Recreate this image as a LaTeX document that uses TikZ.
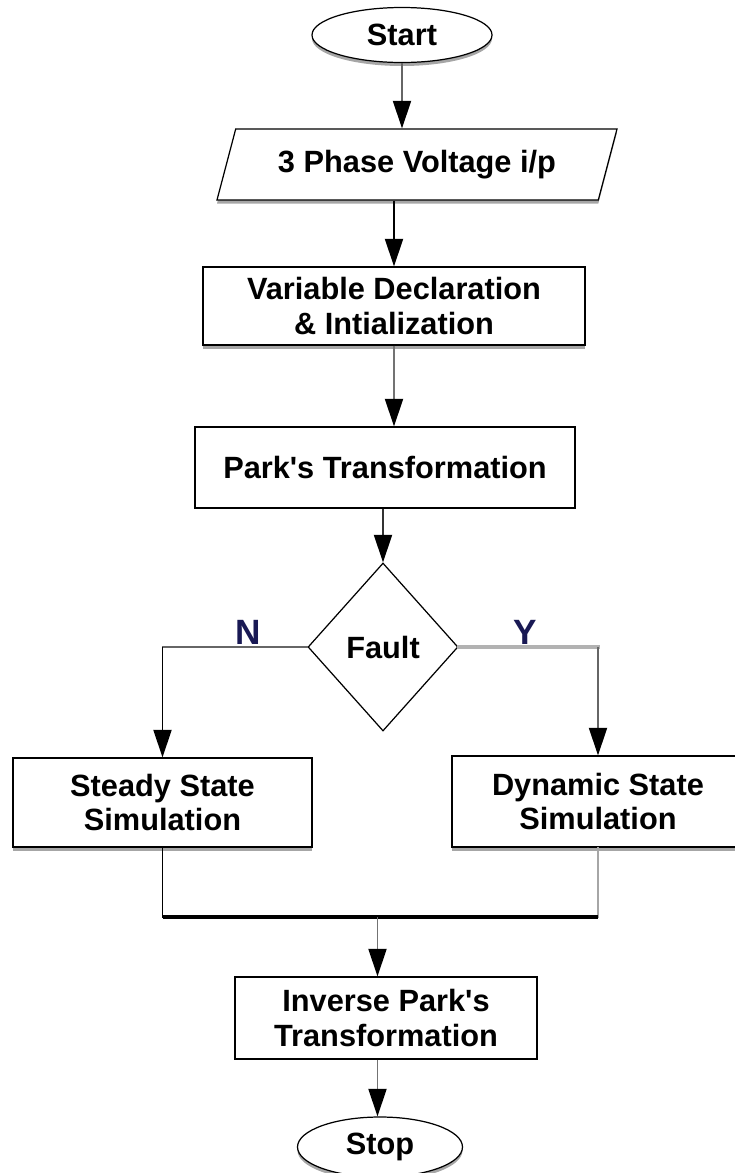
\documentclass[tikz,border=0pt]{standalone}
\usepackage{fontspec}
\setmainfont{Liberation Sans}
\usetikzlibrary{shapes.geometric,arrows.meta,shadows}
\definecolor{navy}{rgb}{0.1,0.1,0.33}

\begin{document}
\begin{tikzpicture}[
  every node/.style={font=\fontsize{17.5}{19.5}\selectfont\bfseries, align=center},
  box/.style={draw, fill=white, line width=0.7pt, inner sep=0pt},
  lowshadow/.style={drop shadow={shadow xshift=0pt, shadow yshift=-0.07cm, fill=black!35, opacity=1}},
  flow/.style={line width=1.1pt, -{Triangle[width=0.36cm,length=0.55cm,color=black]}},
  link/.style={line width=1.1pt, line cap=rect},
  branchlabel/.style={text=navy, font=\fontsize{20}{22}\selectfont\bfseries, anchor=south, inner sep=1pt}
]
  \useasboundingbox (0,0) rectangle (14.7,-23.46);
  \node[box, lowshadow, ellipse, minimum width=3.6cm, minimum height=1.1cm] (start) at (8.04,-0.70) {Start};
  \node[box, lowshadow, trapezium, trapezium left angle=57, trapezium right angle=123, trapezium stretches body, minimum width=8cm, minimum height=1.42cm] (input) at (8.34,-3.29) {3 Phase Voltage i/p};
  \node[box, lowshadow, minimum width=7.64cm, minimum height=1.56cm] (var) at (7.88,-6.12) {Variable Declaration\\\& Intialization};
  \node[box, minimum width=7.6cm, minimum height=1.62cm] (park) at (7.70,-9.35) {Park\textquotesingle s Transformation};
  \node[box, diamond, minimum width=3cm, minimum height=3.36cm] (fault) at (7.66,-12.94) {Fault};
  \node[box, lowshadow, minimum width=5.98cm, minimum height=1.78cm] (steady) at (3.25,-16.05) {Steady State\\Simulation};
  \node[box, lowshadow, minimum width=5.84cm, minimum height=1.82cm] (dynamic) at (11.96,-16.03) {Dynamic State\\Simulation};
  \node[box, minimum width=6.04cm, minimum height=1.64cm] (inverse) at (7.72,-20.36) {Inverse Park\textquotesingle s\\Transformation};
  \node[box, lowshadow, ellipse, minimum width=3.3cm, minimum height=1.2cm] (stop) at (7.6,-22.94) {Stop};
  \node[branchlabel] (no) at (4.96,-12.94) {N};
  \node[branchlabel] (yes) at (10.5,-12.94) {Y};
  \coordinate (merge) at (7.55,-18.34);

  \draw[flow, black!60] (start.south) -- (start.south |- input.north);
  \draw[flow] (var.north |- input.south) -- (var.north);
  \draw[flow, black!55] (var.south) -- (var.south |- park.north);
  \draw[flow, black!80] (fault.north |- park.south) -- (fault.north);
  \draw[link, black!60] (fault.west) -- (fault.west -| steady.north);
  \draw[flow] (fault.west -| steady.north) -- (steady.north);
  \draw[link, black!30, line width=1.8pt] (fault.east) -- (fault.east -| dynamic.north);
  \draw[flow, black!60] (fault.east -| dynamic.north) -- (dynamic.north);
  \draw[link] (steady.south) -- (steady.south |- merge);
  \draw[link, black!35] (dynamic.south) -- (dynamic.south |- merge);
  \draw[line width=2.5pt] (steady.south |- merge) -- (dynamic.south |- merge);
  \draw[flow, black!55] (merge) -- (merge |- inverse.north);
  \draw[flow, black!55] (inverse.south -| merge) -- (stop.north -| merge);
\end{tikzpicture}
\end{document}
